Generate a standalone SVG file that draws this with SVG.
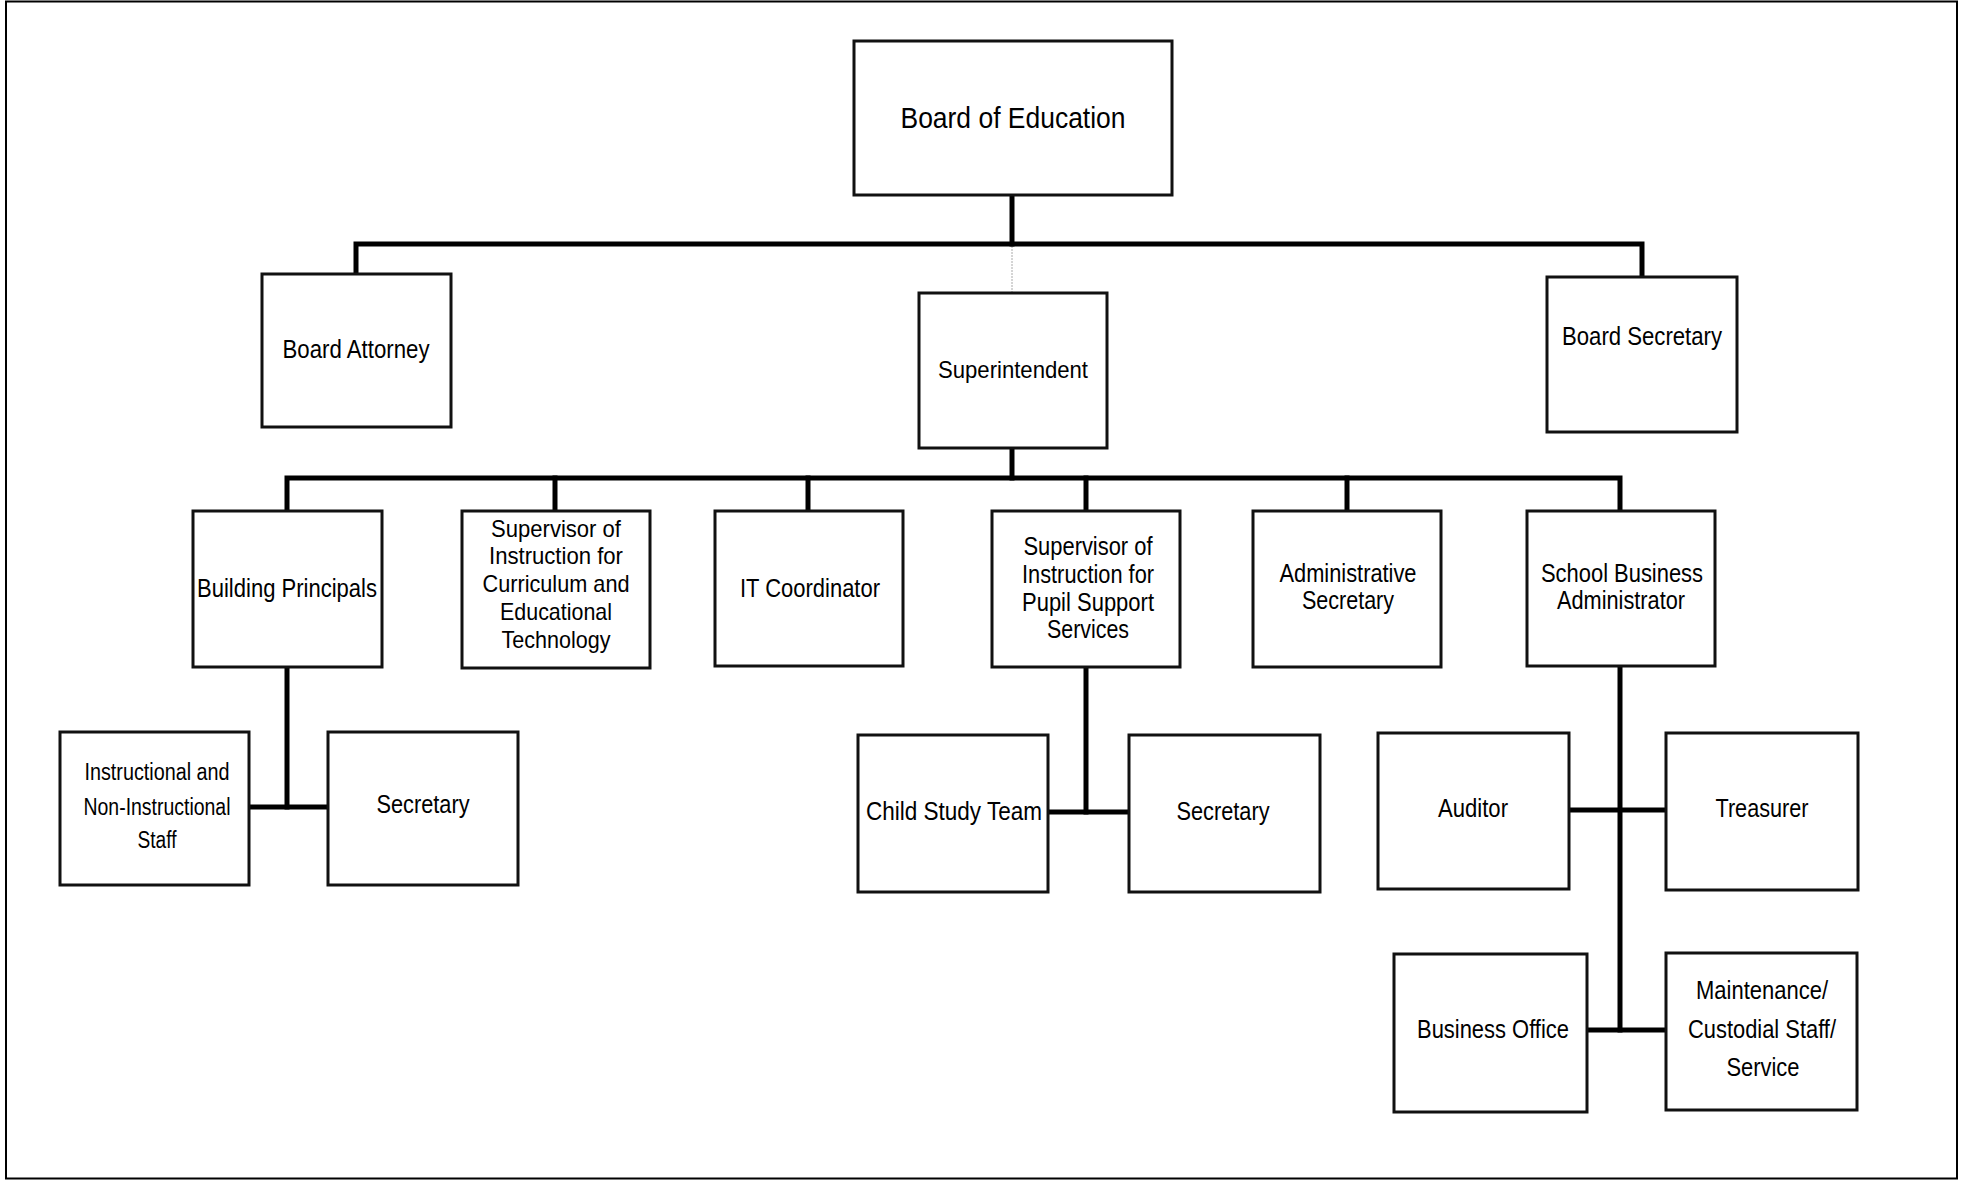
<svg xmlns="http://www.w3.org/2000/svg" width="1961" height="1181" viewBox="0 0 1961 1181">
<style>
.box{fill:#fff;stroke:#111;stroke-width:3}
.ln{stroke:#000;stroke-width:5;fill:none;stroke-linecap:square}
.thin{stroke:#aaa;stroke-width:1;stroke-dasharray:2 1;fill:none}
text{font-family:"Liberation Sans",Arial,sans-serif;fill:#000;text-anchor:middle}
.f30{font-size:30px}.f26{font-size:26px}.f25{font-size:25px}.f24{font-size:24px}.f23{font-size:23px}
</style>
<rect x="6" y="1.5" width="1951" height="1177" fill="#fff" stroke="#000" stroke-width="2"/>
<g id="connectors">
<line class="thin" x1="1012" y1="246" x2="1012" y2="293"/>
<polyline class="ln" points="1012,195 1012,244"/>
<polyline class="ln" points="356,274 356,244 1642,244 1642,277"/>
<polyline class="ln" points="1012,448 1012,478"/>
<polyline class="ln" points="287,511 287,478 1620,478 1620,511"/>
<line class="ln" x1="555" y1="478" x2="555" y2="511"/>
<line class="ln" x1="808" y1="478" x2="808" y2="511"/>
<line class="ln" x1="1086" y1="478" x2="1086" y2="511"/>
<line class="ln" x1="1347" y1="478" x2="1347" y2="511"/>
<line class="ln" x1="287" y1="667" x2="287" y2="807"/>
<line class="ln" x1="249" y1="807" x2="328" y2="807"/>
<line class="ln" x1="1086" y1="667" x2="1086" y2="812"/>
<line class="ln" x1="1048" y1="812" x2="1129" y2="812"/>
<line class="ln" x1="1620" y1="666" x2="1620" y2="1030"/>
<line class="ln" x1="1569" y1="810" x2="1666" y2="810"/>
<line class="ln" x1="1587" y1="1030" x2="1666" y2="1030"/>
</g>
<g id="board-of-education"><rect class="box" x="854" y="41" width="318" height="154"/><text class="f30" x="1013" y="128" textLength="225" lengthAdjust="spacingAndGlyphs">Board of Education</text></g>
<g id="superintendent"><rect class="box" x="919" y="293" width="188" height="155"/><text class="f24" x="1013" y="378" textLength="150" lengthAdjust="spacingAndGlyphs">Superintendent</text></g>
<g id="board-attorney"><rect class="box" x="262" y="274" width="189" height="153"/><text class="f26" x="356" y="358" textLength="147" lengthAdjust="spacingAndGlyphs">Board Attorney</text></g>
<g id="board-secretary"><rect class="box" x="1547" y="277" width="190" height="155"/><text class="f26" x="1642" y="345" textLength="160" lengthAdjust="spacingAndGlyphs">Board Secretary</text></g>
<g id="building-principals"><rect class="box" x="193" y="511" width="189" height="156"/><text class="f26" x="287" y="597" textLength="180" lengthAdjust="spacingAndGlyphs">Building Principals</text></g>
<g id="supervisor-curriculum"><rect class="box" x="462" y="511" width="188" height="157"/>
<text class="f24" x="556" y="537" textLength="130" lengthAdjust="spacingAndGlyphs">Supervisor of</text>
<text class="f24" x="556" y="564" textLength="134" lengthAdjust="spacingAndGlyphs">Instruction for</text>
<text class="f24" x="556" y="592" textLength="147" lengthAdjust="spacingAndGlyphs">Curriculum and</text>
<text class="f24" x="556" y="620" textLength="112" lengthAdjust="spacingAndGlyphs">Educational</text>
<text class="f24" x="556" y="648" textLength="109" lengthAdjust="spacingAndGlyphs">Technology</text></g>
<g id="it-coordinator"><rect class="box" x="715" y="511" width="188" height="155"/><text class="f26" x="810" y="597" textLength="140" lengthAdjust="spacingAndGlyphs">IT Coordinator</text></g>
<g id="supervisor-pupil"><rect class="box" x="992" y="511" width="188" height="156"/>
<text class="f25" x="1088" y="555" textLength="129" lengthAdjust="spacingAndGlyphs">Supervisor of</text>
<text class="f25" x="1088" y="583" textLength="132" lengthAdjust="spacingAndGlyphs">Instruction for</text>
<text class="f25" x="1088" y="611" textLength="132" lengthAdjust="spacingAndGlyphs">Pupil Support</text>
<text class="f25" x="1088" y="638" textLength="82" lengthAdjust="spacingAndGlyphs">Services</text></g>
<g id="administrative-secretary"><rect class="box" x="1253" y="511" width="188" height="156"/>
<text class="f25" x="1348" y="582" textLength="137" lengthAdjust="spacingAndGlyphs">Administrative</text>
<text class="f25" x="1348" y="609" textLength="92" lengthAdjust="spacingAndGlyphs">Secretary</text></g>
<g id="school-business-administrator"><rect class="box" x="1527" y="511" width="188" height="155"/>
<text class="f25" x="1622" y="582" textLength="162" lengthAdjust="spacingAndGlyphs">School Business</text>
<text class="f25" x="1621" y="609" textLength="128" lengthAdjust="spacingAndGlyphs">Administrator</text></g>
<g id="instructional-staff"><rect class="box" x="60" y="732" width="189" height="153"/>
<text class="f23" x="157" y="780" textLength="145" lengthAdjust="spacingAndGlyphs">Instructional and</text>
<text class="f23" x="157" y="815" textLength="147" lengthAdjust="spacingAndGlyphs">Non-Instructional</text>
<text class="f23" x="157" y="848" textLength="39" lengthAdjust="spacingAndGlyphs">Staff</text></g>
<g id="secretary-1"><rect class="box" x="328" y="732" width="190" height="153"/><text class="f25" x="423" y="813" textLength="93" lengthAdjust="spacingAndGlyphs">Secretary</text></g>
<g id="child-study-team"><rect class="box" x="858" y="735" width="190" height="157"/><text class="f26" x="954" y="820" textLength="176" lengthAdjust="spacingAndGlyphs">Child Study Team</text></g>
<g id="secretary-2"><rect class="box" x="1129" y="735" width="191" height="157"/><text class="f25" x="1223" y="820" textLength="93" lengthAdjust="spacingAndGlyphs">Secretary</text></g>
<g id="auditor"><rect class="box" x="1378" y="733" width="191" height="156"/><text class="f26" x="1473" y="817" textLength="70" lengthAdjust="spacingAndGlyphs">Auditor</text></g>
<g id="treasurer"><rect class="box" x="1666" y="733" width="192" height="157"/><text class="f26" x="1762" y="817" textLength="93" lengthAdjust="spacingAndGlyphs">Treasurer</text></g>
<g id="business-office"><rect class="box" x="1394" y="954" width="193" height="158"/><text class="f25" x="1493" y="1038" textLength="152" lengthAdjust="spacingAndGlyphs">Business Office</text></g>
<g id="maintenance"><rect class="box" x="1666" y="953" width="191" height="157"/>
<text class="f25" x="1762" y="999" textLength="132" lengthAdjust="spacingAndGlyphs">Maintenance/</text>
<text class="f25" x="1762" y="1038" textLength="148" lengthAdjust="spacingAndGlyphs">Custodial Staff/</text>
<text class="f25" x="1763" y="1076" textLength="73" lengthAdjust="spacingAndGlyphs">Service</text></g>
</svg>
